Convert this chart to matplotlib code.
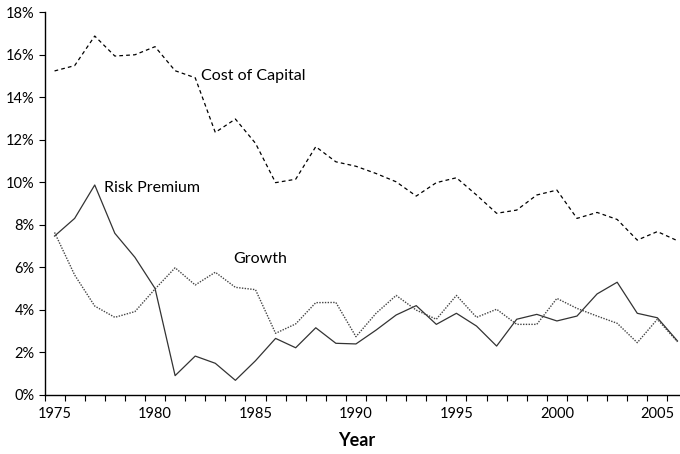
import numpy as np
import matplotlib.pyplot as plt
from matplotlib.ticker import FuncFormatter, MultipleLocator

years = list(range(1975, 2007))

cost_of_capital = [15.23, 15.48, 16.87, 15.93, 15.99, 16.37, 15.24, 14.91, 12.34, 12.97,
                   11.83, 9.98, 10.14, 11.67, 10.96, 10.75, 10.41, 10.02, 9.35, 9.98,
                   10.21, 9.40, 8.54, 8.69, 9.40, 9.63, 8.30, 8.58, 8.25, 7.28,
                   7.68, 7.25]

risk_premium = [7.47, 8.30, 9.87, 7.60, 6.47, 5.01, 0.91, 1.83, 1.49, 0.69,
                1.61, 2.66, 2.22, 3.16, 2.43, 2.40, 3.05, 3.76, 4.20, 3.32,
                3.84, 3.24, 2.30, 3.56, 3.79, 3.48, 3.71, 4.75, 5.30, 3.84,
                3.63, 2.54]

growth = [7.64, 5.64, 4.18, 3.65, 3.92, 4.98, 5.98, 5.17, 5.77, 5.06,
          4.95, 2.90, 3.34, 4.34, 4.35, 2.74, 3.84, 4.68, 3.99, 3.56,
          4.68, 3.65, 4.03, 3.32, 3.32, 4.54, 4.07, 3.71, 3.37, 2.46,
          3.56, 2.50]

plt.rcParams['font.family'] = ['Lato', 'DejaVu Sans']

fig = plt.figure(figsize=(6.8, 4.54), dpi=100)
ax = fig.add_axes([44.5 / 680, 59 / 454, 643 / 680, 383 / 454])

ax.plot(years, cost_of_capital, color='black', lw=0.9, ls=(0, (3, 2.5)))
ax.plot(years, risk_premium, color='#333333', lw=0.9, ls='-')
ax.plot(years, growth, color='#444444', lw=1.0, ls=(0, (1, 1)))

ax.set_xlim(1974.5, 2006.5)
ax.set_ylim(0, 18)

ax.yaxis.set_major_locator(MultipleLocator(2))
ax.yaxis.set_major_formatter(FuncFormatter(lambda v, p: f'{v:.0f}%'))
ax.set_xticks(range(1975, 2007, 5))
ax.set_xticks(np.arange(1974.5, 2006.6, 1), minor=True)
ax.tick_params(axis='x', which='major', length=0, pad=9, labelsize=10.5)
ax.tick_params(axis='x', which='minor', length=4, width=0.8, direction='out')
ax.tick_params(axis='y', length=4, width=0.8, labelsize=10.5, pad=3)

for side in ['top', 'right']:
    ax.spines[side].set_visible(False)
for side in ['left', 'bottom']:
    ax.spines[side].set_linewidth(1.0)

ax.text(1982.3, 15.0, 'Cost of Capital', fontsize=11.5, va='center', ha='left')
ax.text(1977.45, 9.75, 'Risk Premium', fontsize=11.5, va='center', ha='left')
ax.text(1983.9, 6.4, 'Growth', fontsize=11.5, va='center', ha='left')

fig.text(357 / 680, 1 - 440 / 454, 'Year', fontsize=13, fontweight='bold',
         ha='center', va='center')

fig.savefig('out.png', dpi=100)
